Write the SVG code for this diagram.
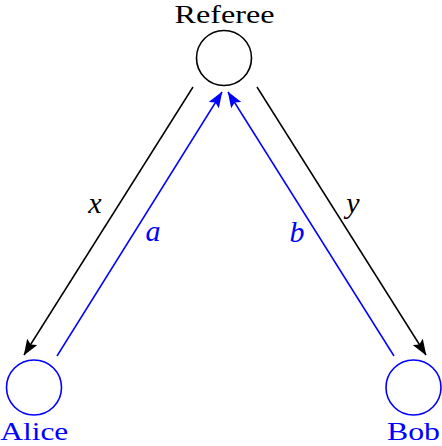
<svg xmlns="http://www.w3.org/2000/svg" width="442" height="446" viewBox="0 0 442 446">
<defs>
<style>
.node{fill:none;stroke-width:1.6}
.blk{stroke:#000}
.blu{stroke:#0000ff}
.edge{stroke-width:1.5;fill:none}
.lbl{font-size:25.5px}
.math{font-size:30px;font-style:italic}
</style>
<marker id="ab" viewBox="0 0 16 12" refX="15.5" refY="6" markerWidth="16" markerHeight="12" markerUnits="userSpaceOnUse" orient="auto">
<path d="M0,0 L16,6 L0,12 L3,6 Z" fill="#000"/>
</marker>
<marker id="au" viewBox="0 0 16 12" refX="15.5" refY="6" markerWidth="16" markerHeight="12" markerUnits="userSpaceOnUse" orient="auto">
<path d="M0,0 L16,6 L0,12 L3,6 Z" fill="#0000ff"/>
</marker>
</defs>
<g id="connectors">
<line class="edge blk" x1="193" y1="87" x2="24" y2="355" marker-end="url(#ab)"/>
<line class="edge blu" x1="57" y1="356" x2="222" y2="92" marker-end="url(#au)"/>
<line class="edge blu" x1="394" y1="356" x2="228" y2="92" marker-end="url(#au)"/>
<line class="edge blk" x1="257" y1="87" x2="426" y2="355" marker-end="url(#ab)"/>
<g font-family="'Liberation Serif', 'Times New Roman', serif">
<text class="math" x="95" y="213" text-anchor="middle">x</text>
<text class="math" x="153" y="241" text-anchor="middle" fill="#0000ff">a</text>
<text class="math" x="353" y="213" text-anchor="middle">y</text>
<text class="math" x="297" y="242" text-anchor="middle" fill="#0000ff">b</text>
</g>
</g>
<g id="referee" font-family="'Liberation Serif', 'Times New Roman', serif">
<circle class="node blk" cx="224" cy="58" r="27.5"/>
<text class="lbl" x="224.5" y="23" text-anchor="middle" textLength="100" lengthAdjust="spacingAndGlyphs">Referee</text>
</g>
<g id="alice" font-family="'Liberation Serif', 'Times New Roman', serif">
<circle class="node blu" cx="34" cy="387.5" r="27.5"/>
<text class="lbl" x="34.3" y="440" text-anchor="middle" fill="#0000ff" textLength="68" lengthAdjust="spacingAndGlyphs">Alice</text>
</g>
<g id="bob" font-family="'Liberation Serif', 'Times New Roman', serif">
<circle class="node blu" cx="413.5" cy="387.5" r="27.5"/>
<text class="lbl" x="413.5" y="440" text-anchor="middle" fill="#0000ff" textLength="53" lengthAdjust="spacingAndGlyphs">Bob</text>
</g>
</svg>
